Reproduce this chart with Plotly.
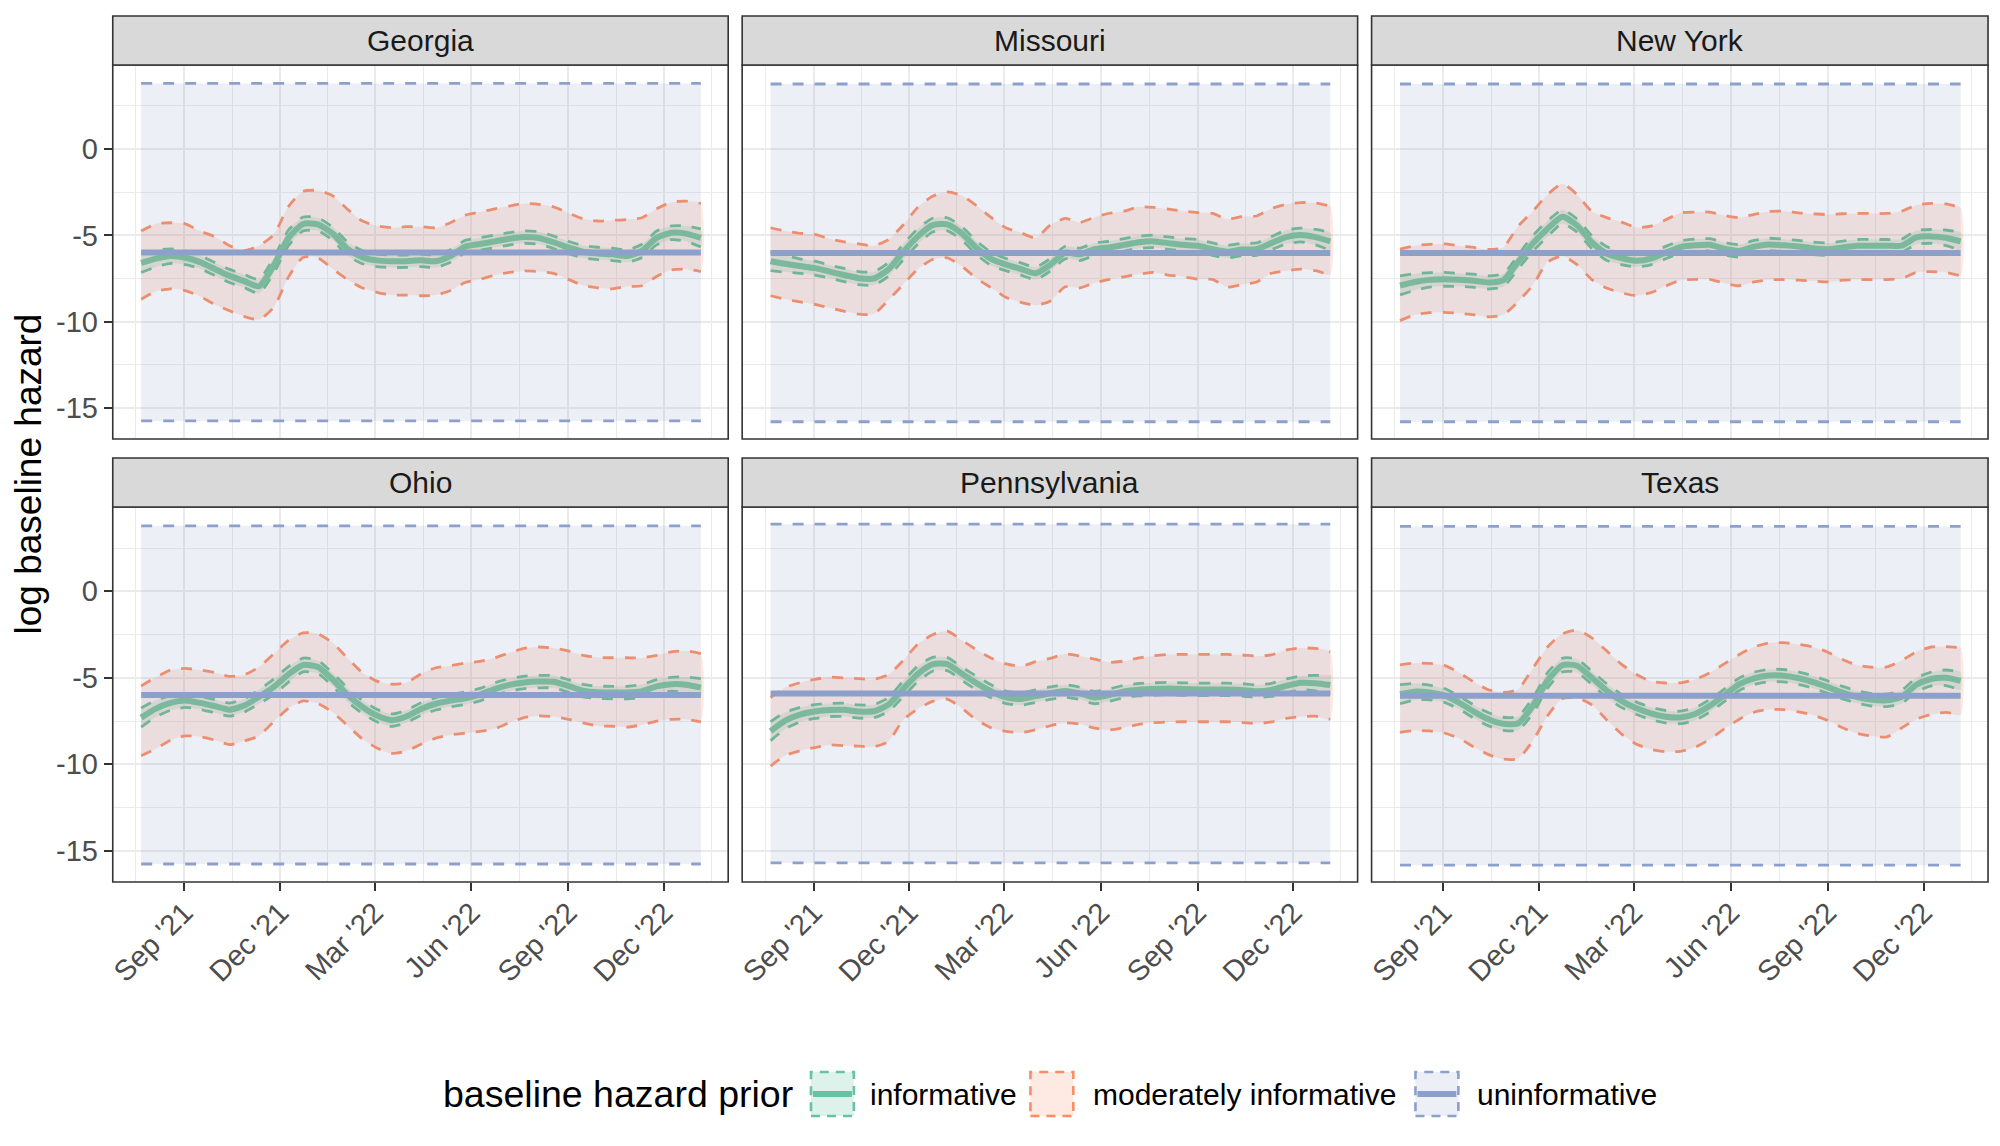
import plotly.graph_objects as go
import pandas as pd

# page body has an 8px margin, so the figure is sized to fit the window exactly
OFF = 8
OFFX = 13
W, H = 2000 - OFF, 1146 - OFF

# ---------------- data ----------------
dates = pd.date_range("2021-07-22", periods=39, freq="14D")

states = ["Georgia", "Missouri", "New York", "Ohio", "Pennsylvania", "Texas"]

georgia_inf_mean = [-6.6, -6.35, -6.2, -6.3, -6.55, -6.95, -7.35, -7.65, -7.95, -6.75, -5.15, -4.34, -4.36, -4.9, -5.78, -6.26, -6.45, -6.5, -6.5, -6.45, -6.5, -6.2, -5.65, -5.5, -5.35, -5.2, -5.1, -5.15, -5.4, -5.7, -5.95, -6.05, -6.1, -6.2, -5.9, -5.15, -4.85, -4.9, -5.15]
georgia_mod_hi = [-4.75, -4.33, -4.27, -4.33, -4.75, -5.08, -5.6, -5.88, -5.6, -4.97, -3.33, -2.45, -2.4, -2.71, -3.48, -4.16, -4.45, -4.56, -4.5, -4.5, -4.56, -4.27, -3.83, -3.65, -3.46, -3.3, -3.15, -3.2, -3.35, -3.7, -4.04, -4.17, -4.13, -4.08, -3.98, -3.46, -3.08, -3.02, -3.15]
georgia_mod_lo = [-8.7, -8.25, -8.1, -8.2, -8.54, -9.0, -9.37, -9.7, -9.88, -9.17, -7.42, -6.27, -6.3, -6.94, -7.57, -8.04, -8.3, -8.46, -8.46, -8.5, -8.46, -8.2, -7.73, -7.55, -7.3, -7.15, -7.06, -7.1, -7.2, -7.55, -7.9, -8.04, -8.1, -7.96, -7.92, -7.38, -7.0, -6.96, -7.1]

missouri_inf_mean = [-6.5, -6.65, -6.78, -6.9, -7.1, -7.3, -7.48, -7.5, -6.98, -5.97, -5.06, -4.41, -4.36, -4.9, -5.74, -6.38, -6.7, -6.95, -7.2, -6.7, -6.0, -6.1, -5.8, -5.7, -5.55, -5.4, -5.35, -5.45, -5.55, -5.6, -5.8, -5.95, -5.82, -5.8, -5.45, -5.1, -4.98, -5.1, -5.35]
missouri_mod_hi = [-4.56, -4.75, -4.88, -4.94, -5.2, -5.38, -5.5, -5.6, -5.25, -4.4, -3.37, -2.74, -2.48, -2.71, -3.29, -3.98, -4.58, -4.85, -5.15, -4.4, -4.02, -4.25, -3.95, -3.72, -3.6, -3.35, -3.38, -3.48, -3.6, -3.68, -3.73, -4.05, -3.92, -3.88, -3.45, -3.2, -3.1, -3.12, -3.3]
missouri_mod_lo = [-8.5, -8.7, -8.85, -9.0, -9.2, -9.4, -9.56, -9.56, -8.75, -7.85, -6.95, -6.4, -6.3, -6.8, -7.5, -8.05, -8.6, -8.88, -9.05, -8.8, -7.98, -8.05, -7.75, -7.55, -7.4, -7.25, -7.15, -7.3, -7.4, -7.54, -7.55, -8.0, -7.85, -7.7, -7.2, -7.05, -6.96, -7.05, -7.3]

newyork_inf_mean = [-7.9, -7.7, -7.58, -7.55, -7.58, -7.63, -7.73, -7.6, -6.55, -5.47, -4.62, -3.92, -4.43, -5.4, -6.05, -6.32, -6.47, -6.35, -6.0, -5.68, -5.58, -5.55, -5.78, -5.9, -5.65, -5.53, -5.58, -5.65, -5.75, -5.8, -5.7, -5.6, -5.6, -5.6, -5.6, -5.12, -5.06, -5.14, -5.35]
newyork_mod_hi = [-5.8, -5.6, -5.52, -5.5, -5.6, -5.7, -5.82, -5.7, -4.48, -3.6, -2.64, -2.01, -2.64, -3.62, -3.97, -4.23, -4.54, -4.47, -4.1, -3.7, -3.65, -3.65, -3.85, -3.98, -3.78, -3.62, -3.6, -3.7, -3.75, -3.8, -3.75, -3.73, -3.73, -3.73, -3.6, -3.25, -3.15, -3.18, -3.4]
newyork_mod_lo = [-9.94, -9.6, -9.48, -9.46, -9.52, -9.6, -9.72, -9.6, -8.85, -7.88, -6.55, -6.2, -6.7, -7.56, -8.05, -8.33, -8.49, -8.32, -7.94, -7.6, -7.55, -7.55, -7.78, -7.92, -7.7, -7.58, -7.56, -7.6, -7.65, -7.7, -7.6, -7.56, -7.56, -7.56, -7.5, -7.15, -7.1, -7.15, -7.35]

ohio_inf_mean = [-7.3, -6.78, -6.45, -6.31, -6.45, -6.64, -6.84, -6.6, -6.1, -5.53, -4.8, -4.26, -4.38, -5.1, -5.98, -6.67, -7.18, -7.45, -7.24, -6.8, -6.5, -6.32, -6.18, -5.97, -5.65, -5.41, -5.27, -5.22, -5.23, -5.47, -5.74, -5.84, -5.85, -5.85, -5.77, -5.5, -5.37, -5.4, -5.57]
ohio_mod_hi = [-5.47, -4.97, -4.55, -4.46, -4.55, -4.7, -4.92, -4.83, -4.38, -3.62, -2.84, -2.4, -2.46, -2.98, -3.86, -4.69, -5.19, -5.37, -5.29, -4.77, -4.42, -4.3, -4.15, -4.05, -3.85, -3.55, -3.3, -3.22, -3.28, -3.45, -3.7, -3.82, -3.84, -3.84, -3.85, -3.7, -3.5, -3.45, -3.6]
ohio_mod_lo = [-9.5, -9.1, -8.6, -8.36, -8.4, -8.6, -8.86, -8.65, -8.35, -7.53, -6.77, -6.34, -6.49, -6.99, -7.75, -8.52, -9.05, -9.37, -9.23, -8.84, -8.49, -8.3, -8.2, -8.1, -7.95, -7.6, -7.3, -7.2, -7.25, -7.4, -7.6, -7.78, -7.8, -7.85, -7.72, -7.5, -7.4, -7.4, -7.54]

pennsylvania_inf_mean = [-8.08, -7.47, -7.13, -6.95, -6.86, -6.85, -6.95, -6.93, -6.55, -5.64, -4.77, -4.22, -4.21, -4.77, -5.32, -5.79, -6.13, -6.23, -6.06, -5.89, -5.76, -5.9, -6.14, -6.0, -5.79, -5.69, -5.65, -5.62, -5.65, -5.67, -5.67, -5.67, -5.7, -5.77, -5.7, -5.47, -5.29, -5.31, -5.42]
pennsylvania_mod_hi = [-6.15, -5.56, -5.28, -5.09, -4.96, -5.01, -5.05, -5.09, -4.82, -4.0, -3.05, -2.51, -2.3, -2.84, -3.39, -3.87, -4.2, -4.33, -4.07, -3.88, -3.63, -3.74, -3.92, -4.11, -4.03, -3.85, -3.72, -3.65, -3.65, -3.65, -3.65, -3.65, -3.68, -3.75, -3.68, -3.4, -3.28, -3.3, -3.5]
pennsylvania_mod_lo = [-10.1, -9.49, -9.22, -9.03, -8.88, -8.92, -8.95, -8.99, -8.68, -7.43, -6.8, -6.36, -6.23, -6.77, -7.44, -7.9, -8.09, -8.17, -8.0, -7.77, -7.6, -7.67, -7.91, -8.01, -7.88, -7.69, -7.59, -7.55, -7.54, -7.54, -7.54, -7.54, -7.58, -7.65, -7.55, -7.35, -7.25, -7.22, -7.4]

texas_inf_mean = [-5.95, -5.8, -5.85, -6.02, -6.43, -6.95, -7.4, -7.66, -7.63, -6.62, -5.15, -4.27, -4.3, -5.0, -5.74, -6.33, -6.75, -7.06, -7.25, -7.29, -7.09, -6.62, -6.0, -5.37, -5.03, -4.87, -4.88, -5.02, -5.25, -5.54, -5.86, -6.11, -6.27, -6.3, -6.1, -5.4, -5.07, -5.0, -5.18]
texas_mod_hi = [-4.26, -4.15, -4.17, -4.28, -4.7, -5.24, -5.69, -5.85, -5.67, -4.45, -3.22, -2.46, -2.25, -2.69, -3.44, -4.21, -4.79, -5.2, -5.3, -5.29, -5.1, -4.71, -4.18, -3.65, -3.22, -2.98, -2.97, -3.07, -3.22, -3.52, -3.94, -4.27, -4.39, -4.37, -4.0, -3.5, -3.22, -3.2, -3.26]
texas_mod_lo = [-8.16, -8.05, -8.07, -8.19, -8.5, -9.0, -9.44, -9.7, -9.67, -8.64, -7.2, -6.2, -6.16, -6.56, -7.42, -8.24, -8.82, -9.13, -9.27, -9.25, -9.01, -8.55, -7.94, -7.39, -6.99, -6.83, -6.84, -6.97, -7.15, -7.47, -7.89, -8.22, -8.37, -8.42, -7.9, -7.39, -7.12, -7.0, -7.14]

# half-width of the informative interval (read from the dashed green bounds)
inf_halfwidth = [0.55, 0.48, 0.42, 0.4, 0.38, 0.38, 0.38, 0.38, 0.4, 0.45, 0.45, 0.4, 0.38, 0.38, 0.4, 0.38,
                 0.36, 0.36, 0.36, 0.36, 0.36, 0.36, 0.36, 0.36, 0.36, 0.36, 0.36, 0.36, 0.36, 0.36, 0.36, 0.36,
                 0.36, 0.36, 0.38, 0.4, 0.4, 0.45, 0.52]

# uninformative prior: flat mean and interval per state
uninf_mean = [-6.0, -6.02, -6.02, -5.99, -5.91, -6.04]
uninf_hi = [3.8, 3.77, 3.77, 3.78, 3.88, 3.75]
uninf_lo = [-15.75, -15.8, -15.8, -15.76, -15.7, -15.83]

inf_means = [georgia_inf_mean, missouri_inf_mean, newyork_inf_mean, ohio_inf_mean, pennsylvania_inf_mean, texas_inf_mean]
mod_his = [georgia_mod_hi, missouri_mod_hi, newyork_mod_hi, ohio_mod_hi, pennsylvania_mod_hi, texas_mod_hi]
mod_los = [georgia_mod_lo, missouri_mod_lo, newyork_mod_lo, ohio_mod_lo, pennsylvania_mod_lo, texas_mod_lo]

x_tickvals = ["2021-09-01", "2021-12-01", "2022-03-01", "2022-06-01", "2022-09-01", "2022-12-01"]
x_ticktext = ["Sep '21", "Dec '21", "Mar '22", "Jun '22", "Sep '22", "Dec '22"]
x_minor = ["2021-07-17", "2021-10-16 12:00", "2022-01-15", "2022-04-16", "2022-07-17", "2022-10-16 12:00", "2023-01-15"]
y_tickvals = [-15, -10, -5, 0]
y_ticktext = ["-15", "-10", "-5", "0"]
y_minor = [-12.5, -7.5, -2.5, 2.5]

# ---------------- style ----------------
GREEN, ORANGE, BLUE = "#66C2A5", "#FC8D62", "#8DA0CB"
GREEN_LINE = "rgb(124,184,156)"     # green seen through the overlying ribbons
GREEN_DASH = "rgb(112,182,150)"
ORANGE_DASH = "rgb(236,143,112)"
GREEN_F = "rgba(102,194,165,0.22)"
ORANGE_F = "rgba(252,141,98,0.18)"
BLUE_F = "rgba(141,160,203,0.17)"
DASH = "11px,11px"
FONT = "Liberation Sans, Arial, sans-serif"
GRID = "#EBEBEB"

# positions in window pixels (reference image coordinates)
cols = [(113, 730), (744, 1361), (1375, 1993)]
rows = [(65, 439), (507, 882)]
STRIP_H = 49


def px(x):
    return (x - OFFX) / W


def py(y):
    return 1 - (y - OFF) / H


fig = go.Figure()
xl = list(dates)
xpoly = xl + xl[::-1]

for k, st in enumerate(states):
    xa = "x" if k == 0 else f"x{k + 1}"
    ya = "y" if k == 0 else f"y{k + 1}"
    n = len(dates)
    m = inf_means[k]
    ihi = [a + w for a, w in zip(m, inf_halfwidth)]
    ilo = [a - w for a, w in zip(m, inf_halfwidth)]
    mhi, mlo = mod_his[k], mod_los[k]
    uhi = [uninf_hi[k]] * n
    ulo = [uninf_lo[k]] * n
    umean = [uninf_mean[k]] * n
    common = dict(xaxis=xa, yaxis=ya, showlegend=False, hoverinfo="skip")

    # ribbons
    for hi, lo, fc, shape in [(ihi, ilo, GREEN_F, "spline"), (mhi, mlo, ORANGE_F, "spline"), (uhi, ulo, BLUE_F, "linear")]:
        fig.add_trace(go.Scatter(x=xpoly, y=hi + lo[::-1], fill="toself", fillcolor=fc,
                                 mode="lines", line=dict(width=0, shape=shape, smoothing=0.6), **common))
    # dashed interval bounds
    for series, col, shape in [(ihi, GREEN_DASH, "spline"), (ilo, GREEN_DASH, "spline"),
                               (mhi, ORANGE_DASH, "spline"), (mlo, ORANGE_DASH, "spline"),
                               (uhi, BLUE, "linear"), (ulo, BLUE, "linear")]:
        fig.add_trace(go.Scatter(x=xl, y=series, mode="lines",
                                 line=dict(color=col, width=2.8, dash=DASH, shape=shape, smoothing=0.6), **common))
    # mean lines
    fig.add_trace(go.Scatter(x=xl, y=m, mode="lines",
                             line=dict(color=GREEN_LINE, width=6, shape="spline", smoothing=0.6), **common))
    fig.add_trace(go.Scatter(x=xl, y=umean, mode="lines",
                             line=dict(color=BLUE, width=6), **common))

layout = dict(
    width=W, height=H, autosize=False,
    margin=dict(l=0, r=0, t=0, b=0, pad=0),
    paper_bgcolor="white", plot_bgcolor="white",
    font=dict(family=FONT, color="#4D4D4D"),
    showlegend=False,
)
shapes = []
annotations = []

for k, st in enumerate(states):
    r, c = divmod(k, 3)
    (x0, x1), (y0, y1) = cols[c], rows[r]
    xname = "xaxis" if k == 0 else f"xaxis{k + 1}"
    yname = "yaxis" if k == 0 else f"yaxis{k + 1}"
    ya = "y" if k == 0 else f"y{k + 1}"
    xa = "x" if k == 0 else f"x{k + 1}"
    bottom = (r == 1)
    left = (c == 0)
    layout[xname] = dict(
        domain=[px(x0), px(x1)], anchor=ya, type="date",
        range=["2021-06-25", "2023-01-31"],
        tickmode="array", tickvals=x_tickvals, ticktext=x_ticktext,
        showticklabels=bottom, ticks="outside" if bottom else "",
        ticklen=8, tickwidth=2, tickcolor="#333333", tickangle=-45,
        ticklabelstandoff=-7,
        tickfont=dict(size=29, color="#4D4D4D", family=FONT),
        showgrid=True, gridcolor=GRID, gridwidth=2.2, zeroline=False, showline=False,
        minor=dict(tickmode="array", tickvals=x_minor, showgrid=True, gridcolor=GRID, gridwidth=1.1, ticks=""),
        fixedrange=True,
    )
    layout[yname] = dict(
        domain=[py(y1), py(y0)], anchor=xa, range=[-16.8, 4.87],
        tickmode="array", tickvals=y_tickvals, ticktext=y_ticktext,
        showticklabels=left, ticks="outside" if left else "",
        ticklen=8, tickwidth=2, tickcolor="#333333",
        tickfont=dict(size=29, color="#4D4D4D", family=FONT),
        showgrid=True, gridcolor=GRID, gridwidth=2.2, zeroline=False, showline=False,
        minor=dict(tickmode="array", tickvals=y_minor, showgrid=True, gridcolor=GRID, gridwidth=1.1, ticks=""),
        fixedrange=True,
    )
    # panel border
    shapes.append(dict(type="rect", xref="paper", yref="paper", x0=px(x0), x1=px(x1), y0=py(y1), y1=py(y0),
                       line=dict(color="#333333", width=1.6), fillcolor="rgba(0,0,0,0)", layer="above"))
    # strip
    shapes.append(dict(type="rect", xref="paper", yref="paper", x0=px(x0), x1=px(x1), y0=py(y0), y1=py(y0 - STRIP_H),
                       line=dict(color="#333333", width=1.6), fillcolor="#D9D9D9", layer="above"))
    annotations.append(dict(text=st, xref="paper", yref="paper", x=px((x0 + x1) / 2), y=py(y0 - STRIP_H / 2),
                            showarrow=False, xanchor="center", yanchor="middle",
                            font=dict(size=30, color="#1A1A1A", family=FONT)))

# y axis title
annotations.append(dict(text="log baseline hazard", xref="paper", yref="paper", x=px(29), y=py((rows[0][0] + rows[1][1]) / 2),
                        showarrow=False, textangle=-90, xanchor="center", yanchor="middle",
                        font=dict(size=37, color="black", family=FONT)))

# legend (drawn manually, ggplot style)
LY0, LY1 = 1072, 1116
LCY = (LY0 + LY1) / 2
annotations.append(dict(text="baseline hazard prior", xref="paper", yref="paper", x=px(797), y=py(LCY),
                        showarrow=False, xanchor="right", yanchor="middle",
                        font=dict(size=37.5, color="black", family=FONT)))
legend_items = [("informative", GREEN, GREEN_F, True, 813, 870),
                ("moderately informative", ORANGE, ORANGE_F, False, 1033, 1094),
                ("uninformative", BLUE, BLUE_F, True, 1419, 1479)]
for label, col, fc, has_line, kx, tx in legend_items:
    shapes.append(dict(type="rect", xref="paper", yref="paper", x0=px(kx), x1=px(kx + 43), y0=py(LY1), y1=py(LY0),
                       line=dict(color=col, width=2.6, dash="9px,7px"), fillcolor=fc, layer="above"))
    if has_line:
        shapes.append(dict(type="line", xref="paper", yref="paper", x0=px(kx + 2), x1=px(kx + 41), y0=py(LCY), y1=py(LCY),
                           line=dict(color=col, width=6), layer="above"))
    annotations.append(dict(text=label, xref="paper", yref="paper", x=px(tx), y=py(LCY),
                            showarrow=False, xanchor="left", yanchor="middle",
                            font=dict(size=30, color="black", family=FONT)))

layout["shapes"] = shapes
layout["annotations"] = annotations
fig.update_layout(**layout)

fig.write_html("out.html")
